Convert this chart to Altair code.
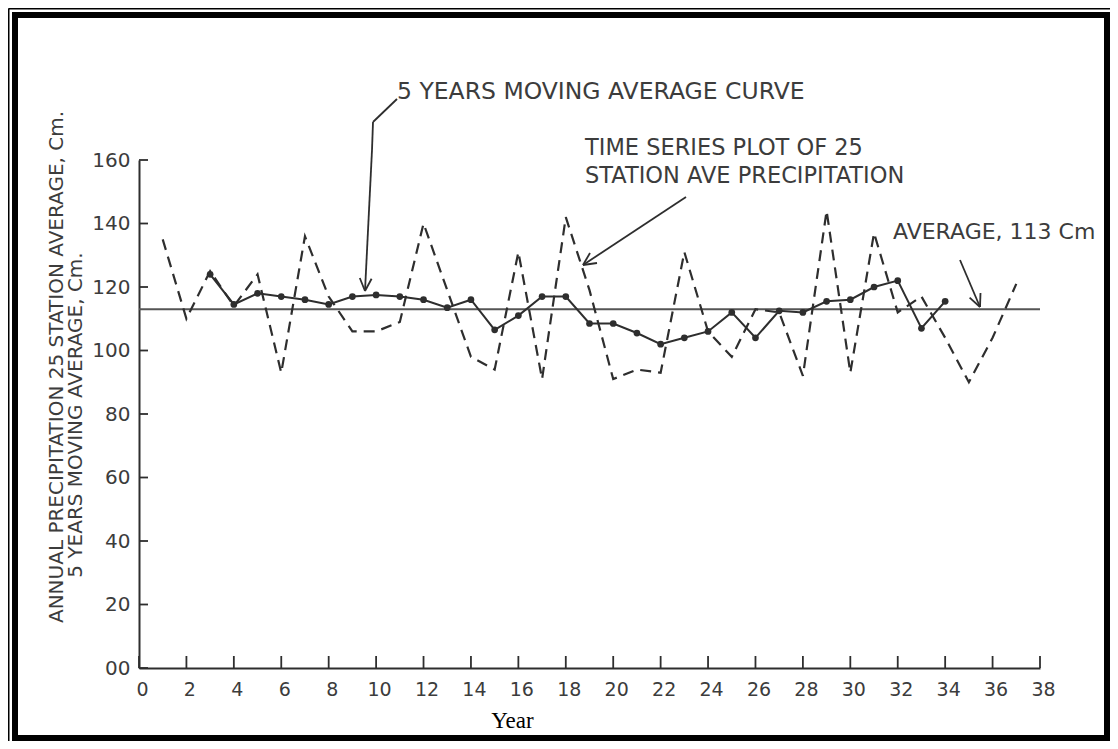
import altair as alt
import pandas as pd

# ---- data ----
years = list(range(1, 38))
annual = [135, 110, 125, 114, 124, 93, 136, 117, 106, 106, 109, 140, 119, 98, 94,
          131, 91, 142, 119, 91, 94, 93, 131, 106, 98, 113, 112, 92, 144, 93,
          137, 112, 117, 104, 90, 104, 121]
ma_years = list(range(3, 35))
moving_avg = [124, 114.5, 118, 117, 116, 114.5, 117, 117.5, 117, 116, 113.5, 116,
              106.5, 111, 117, 117, 108.5, 108.5, 105.5, 102, 104, 106, 112, 104,
              112.5, 112, 115.5, 116, 120, 122, 107, 115.5]
average_value = [113]
x_ticks = list(range(0, 39, 2))
y_ticks = list(range(0, 161, 20))

df_annual = pd.DataFrame({"year": years, "value": annual})
df_ma = pd.DataFrame({"year": ma_years, "value": moving_avg})
df_avg = pd.DataFrame({"value": average_value})
df_xt = pd.DataFrame({"year": x_ticks})
df_yt = pd.DataFrame({"value": y_ticks})
one = pd.DataFrame({"k": [0]})

W, H = 901, 508
INK = "#2e2e2e"
TXT = "#3c3c3c"
FONT = "DejaVu Sans"

xscale = alt.Scale(domain=[0, 38], nice=False, zero=False)
yscale = alt.Scale(domain=[0, 160], nice=False)

X_AXIS = alt.Axis(
    values=x_ticks, ticks=False, grid=False, domainColor=INK, domainWidth=2,
    labelFont=FONT, labelFontSize=19, labelColor=TXT, labelPadding=12,
    labelFlush=False, labelOffset=3, labelOverlap=False,
    title="Year", titleFont="Liberation Serif", titleFontSize=23,
    titleFontWeight="normal", titleColor="black", titleX=373, titleY=52,
    titleBaseline="middle", titleAlign="center", titleAnchor="start")
Y_AXIS = alt.Axis(
    values=y_ticks, ticks=False, grid=False, domainColor=INK, domainWidth=2,
    labelFont=FONT, labelFontSize=20, labelColor=TXT, labelPadding=9,
    labelFlush=False, labelOverlap=False,
    labelExpr="datum.value == 0 ? '00' : datum.label", title=None)


def X(field="year:Q"):
    return alt.X(field, scale=xscale, axis=X_AXIS, title="Year")


def Y(field="value:Q"):
    return alt.Y(field, scale=yscale, axis=Y_AXIS, title=None)


annual_line = alt.Chart(df_annual).mark_line(
    color=INK, strokeWidth=2.2, strokeDash=[11, 7]).encode(x=X(), y=Y())

ma_line = alt.Chart(df_ma).mark_line(color=INK, strokeWidth=2).encode(x=X(), y=Y())
ma_pts = alt.Chart(df_ma).mark_point(filled=True, color=INK, size=45, opacity=1).encode(
    x=X(), y=Y())

avg_rule = alt.Chart(df_avg).mark_rule(color="#555555", strokeWidth=2).encode(
    y=Y(), x=alt.datum(0), x2=alt.datum(38))

xt_rules = alt.Chart(df_xt).mark_rule(color=INK, strokeWidth=1.8).encode(
    x=X(), y=alt.value(H), y2=alt.value(H - 12))
yt_rules = alt.Chart(df_yt).mark_rule(color=INK, strokeWidth=1.8).encode(
    y=Y(), x=alt.value(0), x2=alt.value(9))


def txt(s, x, y, size=22, angle=0, align="left", color=TXT):
    return alt.Chart(one).mark_text(
        text=s, align=align, baseline="middle", fontSize=size, font=FONT,
        angle=angle, color=color).encode(x=alt.value(x), y=alt.value(y))


def seg(x1, y1, x2, y2, w=1.8, color=INK):
    return alt.Chart(one).mark_rule(color=color, strokeWidth=w).encode(
        x=alt.value(x1), y=alt.value(y1), x2=alt.value(x2), y2=alt.value(y2))


# page px -> plot px : (px - 139, py - 160)
texts = [
    txt("5 YEARS MOVING AVERAGE CURVE", 258, -68, size=23.5),
    txt("TIME SERIES PLOT OF 25", 446, -12, size=22.5),
    txt("STATION AVE PRECIPITATION", 446, 16, size=22.5),
    txt("AVERAGE, 113 Cm", 754, 72),
    txt("ANNUAL PRECIPITATION 25 STATION AVERAGE, Cm.", -82, 207, size=20,
        angle=270, align="center"),
    txt("5 YEARS MOVING AVERAGE, Cm.", -63, 255, size=20, angle=270,
        align="center"),
]

arrows = [
    # moving-average arrow
    seg(258, -61, 234, -38), seg(234, -38, 233, -10), seg(233, -10, 226, 131),
    seg(226, 131, 232.6, 118.7), seg(226, 131, 220.8, 118),
    # time-series arrow
    seg(547, 37, 444, 105), seg(444, 105, 458, 103), seg(444, 105, 451, 93),
    # average arrow
    seg(821, 100, 841, 147), seg(841, 147, 841.5, 133), seg(841, 147, 830.6, 137.6),
]

# frame (double border)
frame = [
    alt.Chart(one).mark_rect(filled=False, stroke="black", strokeWidth=6).encode(
        x=alt.value(-124), x2=alt.value(968), y=alt.value(-145), y2=alt.value(578)),
    seg(-130.5, -151.5, 971, -151.5, w=2, color="black"),
    seg(-130.5, -151.5, -130.5, 581, w=2, color="black"),
]

chart = alt.layer(
    avg_rule, annual_line, ma_line, ma_pts, xt_rules, yt_rules,
    *texts, *arrows, *frame
).properties(
    width=W, height=H,
    autosize=alt.AutoSizeParams(type="none"),
    padding={"left": 131, "top": 152, "right": 70, "bottom": 73},
    background="white",
).configure_view(stroke=None)

chart.save("out.html", embed_options={"renderer": "svg", "actions": False})
